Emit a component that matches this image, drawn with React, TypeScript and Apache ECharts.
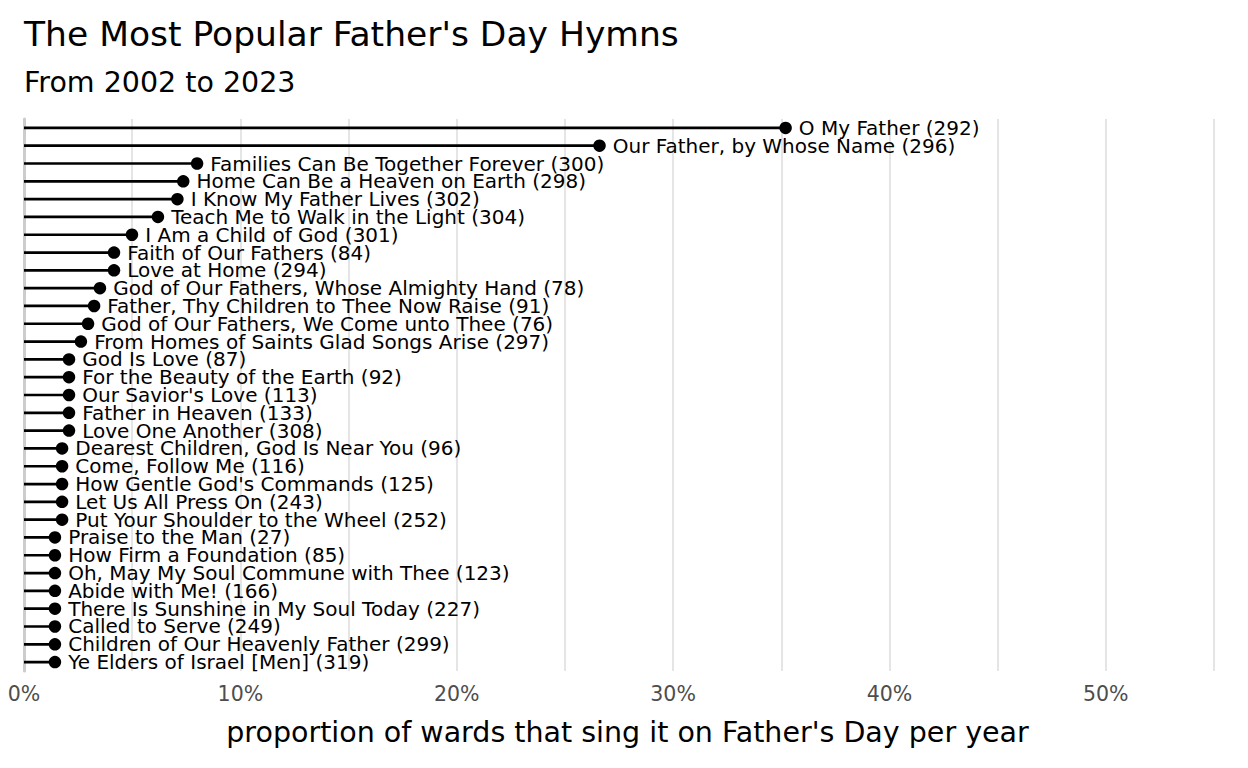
import React, { useEffect, useRef } from "react";
import * as echarts from "echarts";

const hymns = [
  "O My Father (292)",
  "Our Father, by Whose Name (296)",
  "Families Can Be Together Forever (300)",
  "Home Can Be a Heaven on Earth (298)",
  "I Know My Father Lives (302)",
  "Teach Me to Walk in the Light (304)",
  "I Am a Child of God (301)",
  "Faith of Our Fathers (84)",
  "Love at Home (294)",
  "God of Our Fathers, Whose Almighty Hand (78)",
  "Father, Thy Children to Thee Now Raise (91)",
  "God of Our Fathers, We Come unto Thee (76)",
  "From Homes of Saints Glad Songs Arise (297)",
  "God Is Love (87)",
  "For the Beauty of the Earth (92)",
  "Our Savior's Love (113)",
  "Father in Heaven (133)",
  "Love One Another (308)",
  "Dearest Children, God Is Near You (96)",
  "Come, Follow Me (116)",
  "How Gentle God's Commands (125)",
  "Let Us All Press On (243)",
  "Put Your Shoulder to the Wheel (252)",
  "Praise to the Man (27)",
  "How Firm a Foundation (85)",
  "Oh, May My Soul Commune with Thee (123)",
  "Abide with Me! (166)",
  "There Is Sunshine in My Soul Today (227)",
  "Called to Serve (249)",
  "Children of Our Heavenly Father (299)",
  "Ye Elders of Israel [Men] (319)",
];

const proportions = [
  0.352, 0.266, 0.080, 0.0736, 0.0709, 0.0619, 0.0499, 0.0416, 0.0416,
  0.0351, 0.0324, 0.0296, 0.0263, 0.0208, 0.0208, 0.0208, 0.0208, 0.0208,
  0.0176, 0.0176, 0.0176, 0.0176, 0.0176, 0.0143, 0.0143, 0.0143, 0.0143,
  0.0143, 0.0143, 0.0143, 0.0143,
];

const FONT = "DejaVu Sans";

export default function App() {
  const ref = useRef<HTMLDivElement>(null);
  useEffect(() => {
    if (!ref.current) return;
    const chart = echarts.init(ref.current, null, { renderer: "svg" });
    chart.setOption({
      animation: false,
      backgroundColor: "#ffffff",
      textStyle: { fontFamily: FONT },
      title: [
        {
          text: "The Most Popular Father's Day Hymns",
          left: 19,
          top: 11,
          textStyle: { fontFamily: FONT, fontSize: 34.5, fontWeight: "normal", color: "#000" },
        },
        {
          text: "From 2002 to 2023",
          left: 19,
          top: 63,
          textStyle: { fontFamily: FONT, fontSize: 28.5, fontWeight: "normal", color: "#000" },
        },
      ],
      grid: { left: 24, right: 34, top: 119, bottom: 97, containLabel: false },
      xAxis: {
        type: "value",
        min: 0,
        max: 0.55,
        interval: 0.05,
        axisLine: { show: false },
        axisTick: { show: false },
        splitLine: { show: true, lineStyle: { color: "#e5e5e5", width: 2 } },
        axisLabel: {
          margin: 12,
          fontSize: 20.5,
          color: "#4d4d4d",
          fontFamily: FONT,
          formatter: (v: number) => {
            const p = Math.round(v * 100);
            return p % 10 === 0 ? p + "%" : "";
          },
        },
        name: "proportion of wards that sing it on Father's Day per year",
        nameLocation: "middle",
        nameGap: 47,
        nameTextStyle: { fontSize: 28.5, color: "#000", fontFamily: FONT, padding: [0, 0, 0, 17] },
      },
      yAxis: {
        type: "category",
        inverse: true,
        data: hymns,
        axisLine: { show: true, lineStyle: { color: "#cccccc", width: 3 } },
        axisTick: { show: false },
        axisLabel: { show: false },
        splitLine: { show: false },
      },
      series: [
        {
          type: "bar",
          data: proportions,
          barWidth: 2.7,
          itemStyle: { color: "#000" },
          silent: true,
        },
        {
          type: "scatter",
          data: proportions,
          symbol: "circle",
          symbolSize: 12.5,
          itemStyle: { color: "#000", opacity: 1 },
          label: {
            show: true,
            position: "right",
            distance: 7,
            fontSize: 20,
            color: "#000",
            fontFamily: FONT,
            formatter: (p: any) => hymns[p.dataIndex],
          },
        },
      ],
    });
    return () => chart.dispose();
  }, []);
  return (
    <div
      ref={ref}
      style={{ position: "fixed", left: 0, top: 0, width: 1248, height: 768 }}
    />
  );
}
